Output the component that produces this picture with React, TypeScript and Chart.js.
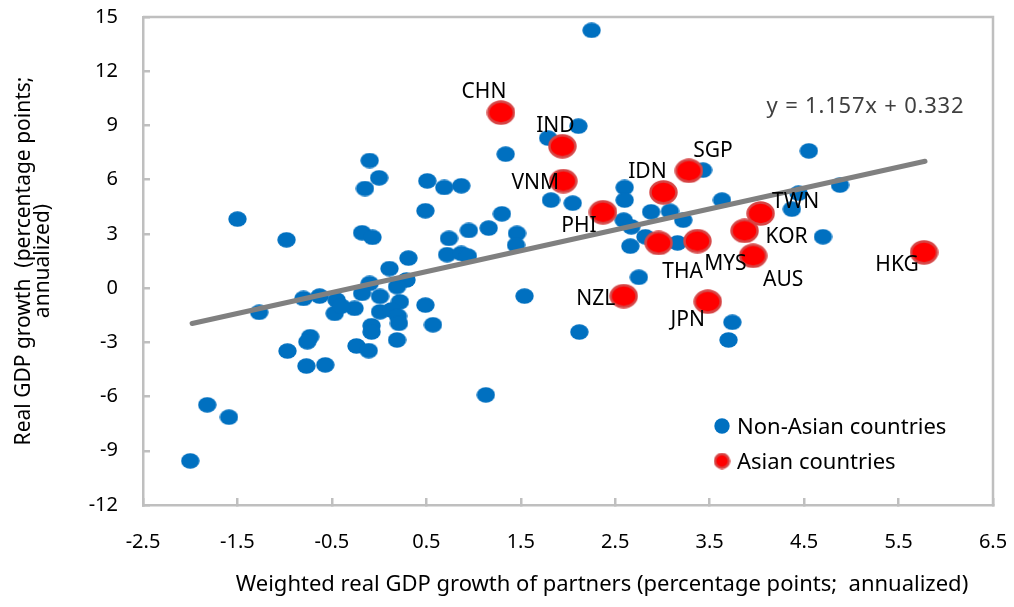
import React, { useEffect, useRef } from 'react';
import { Chart, registerables } from 'chart.js';

Chart.register(...registerables);

const FONT_FAMILY = '"Noto Sans", "Open Sans", "DejaVu Sans", sans-serif';
const AXIS_COLOR = '#BFBFBF';
const BLUE = '#0070C0';
const RED = '#FF0000';
const RED_EDGE = '#D64545';

// Tick labels
const xTickValues = [-2.5, -1.5, -0.5, 0.5, 1.5, 2.5, 3.5, 4.5, 5.5, 6.5];
const yTickValues = [-12, -9, -6, -3, 0, 3, 6, 9, 12, 15];

// Non-Asian countries
const nonAsianX = [
  2.25, 2.11, 1.79, 1.34, -0.10, 0.00, -0.15, 0.51, 0.69, 0.87,
  0.49, 1.30, 0.95, 1.16, 0.74, 1.46, 1.45, 0.72, 0.87, 0.94,
  -0.18, -0.07, 0.31, 0.11, -0.98, -1.50, -0.10, 0.29, 0.19, -0.80,
  -0.63, -0.45, -0.18, 0.01, 0.22, -0.47, -0.26, 0.01, 0.13, 0.20,
  0.21, 0.49, 0.57, -0.08, -0.08, 0.19, -0.73, -0.76, -0.97, -0.24,
  -0.11, -0.77, -0.57, -1.82, -1.59, -2.00, -1.27, 1.13, 1.54, 2.12,
  2.75, 2.60, 2.60, 1.82, 2.05, 2.88, 3.08, 3.22, 2.59, 2.67,
  2.82, 2.66, 3.16, 3.43, 3.63, 4.55, 4.88, 4.37, 4.44, 4.70,
  3.74, 3.70, -0.40,
];
const nonAsianY = [
  14.26, 8.96, 8.30, 7.41, 7.06, 6.10, 5.51, 5.93, 5.57, 5.66,
  4.28, 4.11, 3.19, 3.32, 2.75, 3.03, 2.38, 1.85, 1.92, 1.77,
  3.06, 2.81, 1.66, 1.08, 2.67, 3.82, 0.26, 0.45, 0.08, -0.57,
  -0.44, -0.66, -0.29, -0.46, -0.76, -1.40, -1.12, -1.31, -1.21, -1.55,
  -1.95, -0.94, -2.03, -2.08, -2.43, -2.87, -2.69, -2.97, -3.48, -3.20,
  -3.46, -4.31, -4.25, -6.46, -7.14, -9.56, -1.34, -5.91, -0.44, -2.43,
  0.60, 5.57, 4.87, 4.87, 4.70, 4.22, 4.25, 3.76, 3.76, 3.39,
  2.84, 2.32, 2.50, 6.53, 4.87, 7.59, 5.70, 4.37, 5.25, 2.84,
  -1.89, -2.87, -1.00,
];

// Asian countries
const asianCodes = ['CHN', 'IND', 'VNM', 'PHI', 'IDN', 'SGP', 'THA', 'MYS', 'TWN', 'KOR', 'AUS', 'HKG', 'NZL', 'JPN'];
const asianX = [1.29, 1.94, 1.95, 2.37, 3.01, 3.28, 2.96, 3.37, 4.04, 3.87, 3.96, 5.77, 2.59, 3.48];
const asianY = [9.71, 7.85, 5.92, 4.20, 5.30, 6.49, 2.50, 2.60, 4.13, 3.17, 1.79, 1.98, -0.44, -0.75];

// Fitted line (from the equation shown on the chart)
const trendSlope = 1.157;
const trendIntercept = 0.332;
const trendXRange = [-1.98, 5.78];
const equationText = 'y = 1.157x + 0.332';
const equationAnchor = { x: 5.15, y: 10.05 };

const seriesNames = ['Non-Asian countries', 'Asian countries'];
const xTitle = 'Weighted real GDP growth of partners (percentage points;  annualized)';
const yTitle = ['Real GDP growth  (percentage points;', 'annualized)'];

// Label placement (pixel offset of the text centre from the marker)
const labelOffsets: Record<string, [number, number]> = {
  CHN: [-17, -21], IND: [-7, -20], VNM: [-28, 2], PHI: [-24, 14],
  IDN: [-16, -20], SGP: [24, -20], THA: [24, 29], MYS: [28, 23],
  TWN: [35, -11], KOR: [42, 6], AUS: [30, 24], HKG: [-27, 13],
  NZL: [-28, 3], JPN: [-20, 18],
};

function ellipseMarker(w: number, h: number, fill: string, stroke?: string, lw = 0) {
  const c = document.createElement('canvas');
  c.width = w;
  c.height = h;
  const ctx = c.getContext('2d')!;
  ctx.beginPath();
  ctx.ellipse(w / 2, h / 2, w / 2 - lw / 2 - 0.3, h / 2 - lw / 2 - 0.3, 0, 0, Math.PI * 2);
  ctx.fillStyle = fill;
  ctx.fill();
  if (stroke && lw > 0) {
    ctx.lineWidth = lw;
    ctx.strokeStyle = stroke;
    ctx.stroke();
  }
  return c;
}

function clearPadding(axis: any) {
  axis.paddingTop = 0;
  axis.paddingBottom = 0;
  axis.paddingLeft = 0;
  axis.paddingRight = 0;
}

export default function App() {
  const ref = useRef<HTMLCanvasElement | null>(null);

  useEffect(() => {
    if (!ref.current) return;
    Chart.defaults.font.family = FONT_FAMILY;
    Chart.defaults.color = '#000';

    const blueMarker = ellipseMarker(19, 16, BLUE);
    const redMarker = ellipseMarker(29, 25, RED, RED_EDGE, 2.5);
    const blueLegend = ellipseMarker(16, 16, BLUE);
    const redLegend = ellipseMarker(17, 17, RED, RED_EDGE, 2.5);

    const overlay = {
      id: 'overlay',
      afterDatasetsDraw(chart: any) {
        const { ctx, chartArea, scales } = chart;
        const xs = scales.x;
        const ys = scales.y;
        ctx.save();
        // top and right frame
        ctx.strokeStyle = AXIS_COLOR;
        ctx.lineWidth = 2.5;
        ctx.beginPath();
        ctx.moveTo(chartArea.left, chartArea.top);
        ctx.lineTo(chartArea.right, chartArea.top);
        ctx.lineTo(chartArea.right, chartArea.bottom);
        ctx.stroke();

        // country labels
        ctx.font = `21px ${FONT_FAMILY}`;
        ctx.fillStyle = '#000';
        ctx.textAlign = 'center';
        ctx.textBaseline = 'middle';
        asianCodes.forEach((code, i) => {
          const [dx, dy] = labelOffsets[code] || [0, 0];
          const px = xs.getPixelForValue(asianX[i]);
          const py = ys.getPixelForValue(asianY[i]);
          ctx.fillText(code, px + dx, py + dy);
        });

        // equation
        ctx.save();
        ctx.font = `22px ${FONT_FAMILY}`;
        (ctx as any).letterSpacing = '0.8px';
        ctx.fillStyle = '#404040';
        ctx.fillText(equationText, xs.getPixelForValue(equationAnchor.x), ys.getPixelForValue(equationAnchor.y));
        ctx.restore();

        // legend
        ctx.font = `22px ${FONT_FAMILY}`;
        const lx = chartArea.right - 271;
        const ly = chartArea.bottom - 79;
        const markers = [blueLegend, redLegend];
        ctx.textAlign = 'left';
        ctx.fillStyle = '#000';
        seriesNames.forEach((name, i) => {
          const cy = ly + i * 35;
          const m = markers[i];
          ctx.drawImage(m, lx - m.width / 2, cy - m.height / 2);
          ctx.fillText(name, lx + 15, cy + 2);
        });
        ctx.restore();
      },
      afterDraw(chart: any) {
        const { ctx, chartArea } = chart;
        ctx.save();
        ctx.font = `22px ${FONT_FAMILY}`;
        ctx.fillStyle = '#000';
        ctx.textAlign = 'center';
        ctx.textBaseline = 'middle';
        ctx.fillText(xTitle, (chartArea.left + chartArea.right) / 2 + 34, chart.height - 22);
        ctx.restore();
      },
    };

    const tickFont = { size: 20, family: FONT_FAMILY };

    const chart = new Chart(ref.current, {
      type: 'scatter',
      data: {
        datasets: [
          {
            label: seriesNames[1],
            data: asianX.map((x, i) => ({ x, y: asianY[i] })),
            pointStyle: redMarker as any,
            pointRadius: 12,
            order: 0,
          },
          {
            label: 'trend',
            data: trendXRange.map((x) => ({ x, y: trendSlope * x + trendIntercept })),
            showLine: true,
            borderColor: '#808080',
            borderWidth: 5,
            borderCapStyle: 'round',
            pointRadius: 0,
            order: 1,
          } as any,
          {
            label: seriesNames[0],
            data: nonAsianX.map((x, i) => ({ x, y: nonAsianY[i] })),
            pointStyle: blueMarker as any,
            pointRadius: 9,
            order: 2,
          },
        ],
      },
      options: {
        responsive: false,
        animation: false,
        events: [],
        layout: { autoPadding: false, padding: { left: 0, top: 17, right: 21, bottom: 0 } },
        plugins: { legend: { display: false }, tooltip: { enabled: false } },
        scales: {
          x: {
            type: 'linear',
            min: -2.5,
            max: 6.5,
            afterBuildTicks: (axis: any) => {
              axis.ticks = xTickValues.map((value) => ({ value }));
            },
            afterFit: (axis: any) => {
              axis.height = 102;
              clearPadding(axis);
            },
            ticks: {
              font: tickFont,
              color: '#000',
              padding: 32,
              maxRotation: 0,
              autoSkip: false,
              callback: (v: any) => Number(v).toFixed(1),
            },
            grid: { drawOnChartArea: false, drawTicks: true, tickLength: -7, color: AXIS_COLOR, lineWidth: 2.5 },
            border: { display: true, color: AXIS_COLOR, width: 2.5 },
            title: { display: false, text: xTitle },
          },
          y: {
            type: 'linear',
            min: -12,
            max: 15,
            afterBuildTicks: (axis: any) => {
              axis.ticks = yTickValues.map((value) => ({ value }));
            },
            afterFit: (axis: any) => {
              axis.width = 143;
              clearPadding(axis);
            },
            ticks: {
              font: tickFont,
              color: '#000',
              padding: 32,
              autoSkip: false,
            },
            grid: { drawOnChartArea: false, drawTicks: true, tickLength: -7, color: AXIS_COLOR, lineWidth: 2.5 },
            border: { display: true, color: AXIS_COLOR, width: 2.5 },
            title: {
              display: true,
              text: yTitle,
              font: { size: 21, family: FONT_FAMILY, lineHeight: 0.9 },
              color: '#000',
              padding: { top: 15, bottom: 0 },
            },
          },
        },
      },
      plugins: [overlay],
    });

    return () => chart.destroy();
  }, []);

  return (
    <div style={{ position: 'absolute', left: 0, top: 0, width: 1014, height: 607, background: '#fff' }}>
      <canvas ref={ref} width={1014} height={607} style={{ display: 'block', width: 1014, height: 607 }} />
    </div>
  );
}
